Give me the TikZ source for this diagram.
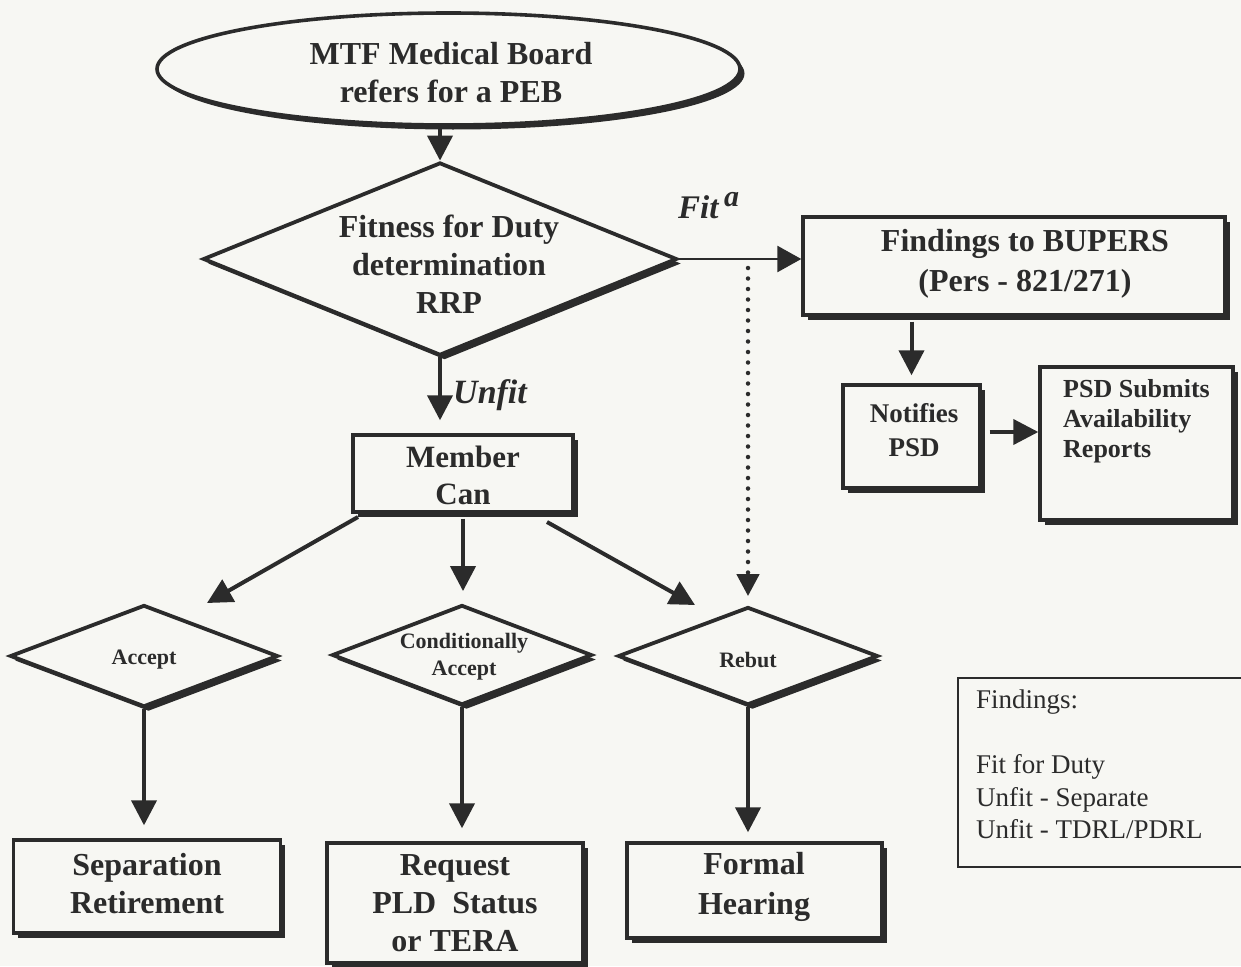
\documentclass[tikz,border=0pt]{standalone}
\usepackage{fontspec}
\setmainfont{Liberation Serif}
\usetikzlibrary{shapes.geometric,arrows.meta,shadows}
\definecolor{ink}{HTML}{2B2B2B}
\definecolor{paper}{HTML}{F7F7F3}
\begin{document}
\begin{tikzpicture}[x=1pt,y=-1pt,
  shade4/.style={drop shadow={shadow xshift=4.5pt,shadow yshift=-4.5pt,fill=ink,opacity=1}},
  boxs/.style={rectangle,draw=ink,line width=3.4pt,fill=paper,shade4,inner sep=0pt},
  dia/.style={diamond,draw=ink,line width=3.8pt,fill=paper,shade4,inner sep=0pt},
  legendbox/.style={rectangle,draw=ink,line width=1.3pt,inner sep=0pt},
  txt/.style={text=ink,font=\bfseries,align=center,inner sep=0pt},
  arr/.style={draw=ink,line width=4pt,-{Triangle[length=25pt,width=25pt]}},
  arrthin/.style={draw=ink,line width=2.6pt,-{Triangle[length=24pt,width=26pt]}},
  dotline/.style={draw=ink,line width=4.5pt,line cap=round,dash pattern=on 0pt off 10.5pt,-{Triangle[length=22pt,width=22pt]}},
]
\useasboundingbox (0,0) rectangle (1241,966);
\fill[paper] (0,0) rectangle (1241,966);

% shapes
\node[ellipse,draw=ink,line width=3.6pt,fill=paper,shade4,minimum width=583pt,minimum height=112pt,inner sep=0pt] (mtf) at (448.5,69) {};
\node[dia,minimum width=474pt,minimum height=193pt] (fd) at (440,259) {};
\node[boxs,minimum width=422pt,minimum height=98pt] (bupers) at (1014,266) {};
\node[boxs,minimum width=137pt,minimum height=103pt] (notif) at (911.5,436.5) {};
\node[boxs,minimum width=193pt,minimum height=153pt] (psd) at (1136.5,443.5) {};
\node[boxs,minimum width=220pt,minimum height=77pt] (member) at (463,473.5) {};
\node[dia,minimum width=268pt,minimum height=102pt] (acc) at (144,656) {};
\node[dia,minimum width=260pt,minimum height=100pt] (cond) at (462,655) {};
\node[dia,minimum width=260pt,minimum height=98pt] (reb) at (748,656) {};
\node[boxs,minimum width=267pt,minimum height=93pt] (sep) at (147,886.5) {};
\node[boxs,minimum width=256pt,minimum height=120pt] (req) at (455,903) {};
\node[boxs,minimum width=255pt,minimum height=95pt] (formal) at (754.5,890.5) {};
\node[legendbox,minimum width=290pt,minimum height=189pt] (legend) at (1103,772.5) {};

% texts
\node[txt,font=\bfseries\fontsize{32}{38}\selectfont] (tmtf) at (451,73) {MTF Medical Board\\refers for a PEB};
\node[txt,font=\bfseries\fontsize{32}{38}\selectfont] (tfd) at (449,264) {Fitness for Duty\\determination\\RRP};
\node[txt,font=\bfseries\fontsize{32}{40}\selectfont] (tbupers) at (1025,264) {Findings to BUPERS\\(Pers - 821/271)};
\node[txt,font=\bfseries\fontsize{27}{34}\selectfont] (tnotif) at (914,430) {Notifies\\PSD};
\node[txt,font=\bfseries\fontsize{26}{30}\selectfont,align=left,anchor=north west] (tpsd) at (1063,379) {PSD Submits\\Availability\\Reports};
\node[txt,font=\bfseries\fontsize{31}{37}\selectfont] (tmember) at (463,475) {Member\\Can};
\node[txt,font=\bfseries\fontsize{22}{27}\selectfont] (tacc) at (144,660) {Accept};
\node[txt,font=\bfseries\fontsize{22}{27}\selectfont] (tcond) at (464,657) {Conditionally\\Accept};
\node[txt,font=\bfseries\fontsize{22}{27}\selectfont] (treb) at (748,660) {Rebut};
\node[txt,font=\bfseries\fontsize{32}{38}\selectfont] (tsep) at (147,884) {Separation\\Retirement};
\node[txt,font=\bfseries\fontsize{32}{38}\selectfont] (treq) at (455,903) {Request\\PLD\ \ Status\\or TERA};
\node[txt,font=\bfseries\fontsize{32}{40}\selectfont] (tformal) at (754,887) {Formal\\Hearing};
\node[txt,font=\fontsize{27}{32.5}\selectfont,align=left,anchor=north west] (tlegend) at (976,690) {Findings:\\[32.5pt]Fit for Duty\\Unfit - Separate\\Unfit - TDRL/PDRL};
\node[txt,font=\bfseries\itshape\fontsize{33}{38}\selectfont,anchor=base west] (tfit) at (678,218) {Fit\,\raisebox{12pt}{\fontsize{30}{30}\selectfont a}};
\node[txt,font=\bfseries\itshape\fontsize{34}{40}\selectfont,anchor=base west] (tunfit) at (453,403) {Unfit};

% connectors
\draw[arr] (fd.north |- mtf.south) -- (fd.north);
\draw[arrthin] (fd.east) -- (bupers.west |- fd.east);
\coordinate (dtop) at (748,268);
\draw[dotline,shorten >=9pt] (dtop) -- (reb.north);
\draw[arr,shorten >=13pt] (fd.south) -- (fd.south |- member.north);
\coordinate (accfrom) at (358,517);
\coordinate (accin) at (207,603);
\draw[arr] (accfrom) -- (accin);
\draw[arr,shorten <=5pt,shorten >=12pt] (member.south) -- (member.south |- cond.north);
\coordinate (rebfrom) at (547,522);
\coordinate (rebin) at (695,605);
\draw[arr] (rebfrom) -- (rebin);
\draw[arr,shorten >=13pt] (acc.south) -- (acc.south |- sep.north);
\draw[arr,shorten >=13pt] (cond.south) -- (cond.south |- req.north);
\draw[arr,shorten >=9pt] (reb.south) -- (reb.south |- formal.north);
\draw[arr,shorten <=5pt,shorten >=8pt] (notif.north |- bupers.south) -- (notif.north);
\draw[arr,shorten <=8pt] (notif.east |- 0,432) -- (psd.west |- 0,432);
\end{tikzpicture}
\end{document}
